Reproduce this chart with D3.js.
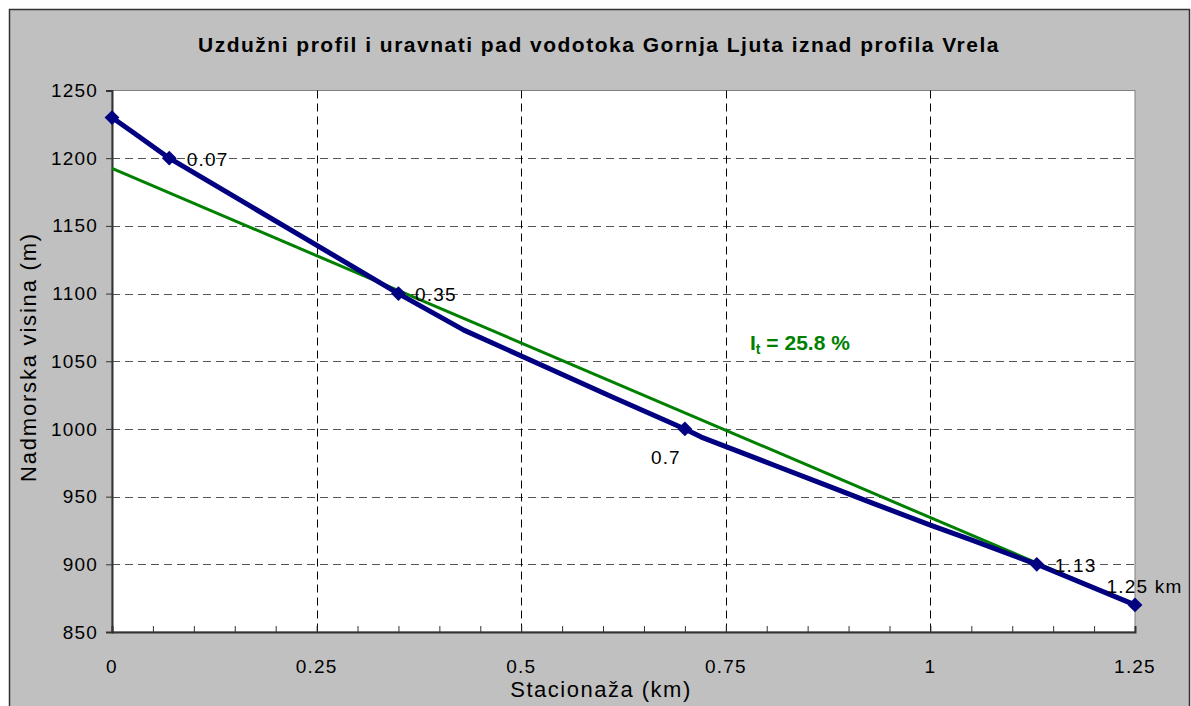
<!DOCTYPE html>
<html>
<head>
<meta charset="utf-8">
<script src="https://cdn.jsdelivr.net/npm/d3@7"></script>
<style>
  body { margin: 0; background: #fff; }
  text { font-family: Arial, "Liberation Sans", sans-serif; }
</style>
</head>
<body>
<div id="chart"></div>
<script>
// profile of the stream (stationing km, elevation m)
const profileKm = [0, 0.026, 0.07, 0.238, 0.35, 0.43, 0.61, 0.7, 0.72, 0.81, 0.87, 0.93, 1.0, 1.05, 1.13, 1.25];
const profileElev = [1230, 1219, 1200, 1140, 1100, 1073, 1024, 1000, 994, 973, 959, 945, 929, 918, 900, 870];

// marked points with labels
const markKm = [0, 0.07, 0.35, 0.7, 1.13, 1.25];
const markElev = [1230, 1200, 1100, 1000, 900, 870];
const markLabels = ["", "0.07", "0.35", "0.7", "1.13", "1.25 km"];

// equalized slope line
const slopeKm = [0, 1.25];
const slopeElev = [1192.5, 870];

const xTicks = [0, 0.25, 0.5, 0.75, 1, 1.25];
const yTicks = [850, 900, 950, 1000, 1050, 1100, 1150, 1200, 1250];

const W = 1191, H = 706;
const margin = { top: 90.5, right: 56, bottom: 74, left: 112 };

const svg = d3.select("#chart").append("svg")
    .attr("width", W)
    .attr("height", H);

// chart background
svg.append("rect")
    .attr("x", 9.5).attr("y", 9.5)
    .attr("width", 1180).attr("height", 720)
    .attr("fill", "#c0c0c0")
    .attr("stroke", "#333").attr("stroke-width", 1.5);

const x = d3.scaleLinear().domain([0, 1.25]).range([margin.left, W - margin.right]);
const y = d3.scaleLinear().domain([850, 1250]).range([H - margin.bottom, margin.top]);

// plot area
svg.append("rect")
    .attr("x", x(0)).attr("y", y(1250))
    .attr("width", x(1.25) - x(0)).attr("height", y(850) - y(1250))
    .attr("fill", "#fff")
    .attr("stroke", "#808080").attr("stroke-width", 1);

// grid
svg.append("g").selectAll("line")
    .data(yTicks.filter(d => d > 850 && d < 1250))
    .join("line")
    .attr("x1", x(0)).attr("x2", x(1.25))
    .attr("y1", d => Math.round(y(d)) + 0.5).attr("y2", d => Math.round(y(d)) + 0.5)
    .attr("stroke", "#555").attr("stroke-dasharray", "8,5");

svg.append("g").selectAll("line")
    .data(xTicks.filter(d => d > 0 && d < 1.25))
    .join("line")
    .attr("x1", d => Math.round(x(d)) + 0.5).attr("x2", d => Math.round(x(d)) + 0.5)
    .attr("y1", y(1250)).attr("y2", y(850))
    .attr("stroke", "#000").attr("stroke-dasharray", "8,5");

// axes
const xAxis = svg.append("g")
    .attr("transform", "translate(0," + y(850) + ")")
    .call(d3.axisBottom(x).tickValues(d3.range(0, 1.2501, 0.05)).tickSize(-6).tickFormat(""));
xAxis.select(".domain").attr("stroke", "#333").attr("stroke-width", 2);
xAxis.selectAll(".tick line").attr("stroke", "#333");

svg.append("g").selectAll("text")
    .data(xTicks)
    .join("text")
    .attr("x", d => x(d))
    .attr("y", 673)
    .attr("text-anchor", "middle")
    .style("font-size", "19px")
    .style("letter-spacing", "1.2px")
    .text(d => d);

const yAxis = svg.append("g")
    .attr("transform", "translate(" + x(0) + ",0)")
    .call(d3.axisLeft(y).tickValues(yTicks).tickSize(6).tickPadding(8).tickFormat(d3.format("d")));
yAxis.select(".domain").attr("stroke", "#333").attr("stroke-width", 2);
yAxis.selectAll(".tick line").attr("stroke", "#333");
yAxis.selectAll(".tick text")
    .style("font-size", "19px")
    .style("letter-spacing", "1.2px")
    .attr("font-family", "Arial, 'Liberation Sans', sans-serif")
    .attr("fill", "#000");

// slope line
const line = d3.line().x(d => x(d[0])).y(d => y(d[1]));

svg.append("path")
    .datum(slopeKm.map((k, i) => [k, slopeElev[i]]))
    .attr("d", line)
    .attr("fill", "none")
    .attr("stroke", "#008000")
    .attr("stroke-width", 3);

// profile line
svg.append("path")
    .datum(profileKm.map((k, i) => [k, profileElev[i]]))
    .attr("d", line)
    .attr("fill", "none")
    .attr("stroke", "#000080")
    .attr("stroke-width", 5)
    .attr("stroke-linejoin", "round");

// markers
svg.append("g").selectAll("path")
    .data(markKm.map((k, i) => [k, markElev[i]]))
    .join("path")
    .attr("d", d3.symbol().type(d3.symbolDiamond2).size(140))
    .attr("transform", d => "translate(" + x(d[0]) + "," + y(d[1]) + ")")
    .attr("fill", "#000080");

// marker labels
const labelOffsets = [[0, 0], [17.5, 8], [16.5, 7.5], [-34, 35], [18, 8], [-28.5, -11.5]];
svg.append("g").selectAll("text")
    .data(markLabels)
    .join("text")
    .attr("x", (d, i) => x(markKm[i]) + labelOffsets[i][0])
    .attr("y", (d, i) => y(markElev[i]) + labelOffsets[i][1])
    .style("font-size", "19px")
    .style("letter-spacing", "1.2px")
    .attr("fill", "#000")
    .text(d => d);

// slope label
const slopeLabel = svg.append("text")
    .attr("x", 750)
    .attr("y", 350)
    .style("font-size", "21px")
    .attr("font-weight", "bold")
    .attr("fill", "#008000");
slopeLabel.append("tspan").text("I");
slopeLabel.append("tspan").style("font-size", "14px").attr("dy", 4).text("t");
slopeLabel.append("tspan").attr("dy", -4).text(" = 25.8 %");

// title
svg.append("text")
    .attr("x", 599)
    .attr("y", 52)
    .attr("text-anchor", "middle")
    .style("font-size", "21px")
    .style("letter-spacing", "1.5px")
    .attr("font-weight", "bold")
    .text("Uzdužni profil i uravnati pad vodotoka Gornja Ljuta iznad profila Vrela");

// axis titles
svg.append("text")
    .attr("x", 601)
    .attr("y", 697)
    .attr("text-anchor", "middle")
    .style("font-size", "22px")
    .style("letter-spacing", "1.5px")
    .text("Stacionaža (km)");

svg.append("text")
    .attr("transform", "translate(36,357) rotate(-90)")
    .attr("text-anchor", "middle")
    .style("font-size", "22px")
    .style("letter-spacing", "1.8px")
    .text("Nadmorska visina (m)");
</script>
</body>
</html>
